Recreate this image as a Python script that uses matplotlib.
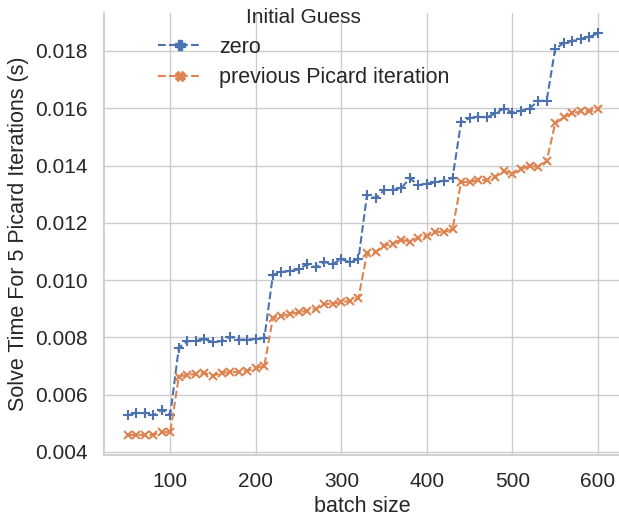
import matplotlib
matplotlib.use("Agg")
import matplotlib.pyplot as plt
import seaborn as sns
from matplotlib.lines import Line2D

# batch sizes and solve times (s) for both initial guesses
batch_size = list(range(50, 610, 10))

zero_guess = [
    0.00527, 0.00536, 0.00535, 0.00527, 0.00547, 0.00530,
    0.00764, 0.00786, 0.00788, 0.00793, 0.00783, 0.00787, 0.00802, 0.00792, 0.00792, 0.00794, 0.00798,
    0.01018, 0.01028, 0.01032, 0.01037, 0.01055, 0.01044, 0.01063, 0.01056, 0.01073, 0.01062, 0.01073,
    0.01298, 0.01286, 0.01314, 0.01315, 0.01320, 0.01356, 0.01331, 0.01337, 0.01341, 0.01347, 0.01356,
    0.01552, 0.01565, 0.01570, 0.01568, 0.01582, 0.01599, 0.01585, 0.01591, 0.01599, 0.01626, 0.01626,
    0.01808, 0.01827, 0.01835, 0.01843, 0.01849, 0.01862,
]

prev_guess = [
    0.00459, 0.00459, 0.00459, 0.00459, 0.00469, 0.00469,
    0.00663, 0.00669, 0.00672, 0.00675, 0.00666, 0.00676, 0.00678, 0.00680, 0.00683, 0.00693, 0.00701,
    0.00868, 0.00873, 0.00883, 0.00887, 0.00893, 0.00899, 0.00915, 0.00918, 0.00922, 0.00928, 0.00937,
    0.01093, 0.01097, 0.01120, 0.01126, 0.01141, 0.01134, 0.01146, 0.01155, 0.01169, 0.01167, 0.01178,
    0.01342, 0.01343, 0.01349, 0.01349, 0.01360, 0.01381, 0.01370, 0.01387, 0.01399, 0.01395, 0.01416,
    0.01547, 0.01568, 0.01583, 0.01589, 0.01589, 0.01597,
]

labels = ["zero", "previous Picard iteration"]

sns.set_theme(style="whitegrid")
plt.rcParams["font.family"] = ["Liberation Sans", "DejaVu Sans"]

blue = "#4C72B0"
orange = "#DD8452"

fig = plt.figure(figsize=(6.19, 5.18), dpi=100)
ax = fig.add_axes([0.168, 0.1216, 0.836, 0.853])

ax.plot(batch_size, zero_guess, color=blue, linestyle="--", linewidth=1.5,
        marker="+", markersize=7, markeredgewidth=1.5)
ax.plot(batch_size, prev_guess, color=orange, linestyle="--", linewidth=1.5,
        marker="x", markersize=5.5, markeredgewidth=1.5)
sns.despine(ax=ax)

ax.set_xticks([100, 200, 300, 400, 500, 600])
ax.set_yticks([0.004, 0.006, 0.008, 0.010, 0.012, 0.014, 0.016, 0.018])
ax.tick_params(labelsize=15, pad=6)
ax.set_xlabel("batch size", fontsize=15.5)
ax.set_ylabel("Solve Time For 5 Picard Iterations (s)", fontsize=15.5)

handles = [
    Line2D([], [], color=blue, linestyle="--", linewidth=1.5, marker="P", markersize=7),
    Line2D([], [], color=orange, linestyle="--", linewidth=1.5, marker="X", markersize=7),
]
leg = ax.legend(handles, labels, title="Initial Guess", frameon=False,
                loc="upper center", bbox_to_anchor=(0.386, 1.098),
                fontsize=15.5, title_fontsize=15, labelspacing=0.45,
                handletextpad=0.8, borderpad=1.27)

fig.savefig("out.png", dpi=100)
